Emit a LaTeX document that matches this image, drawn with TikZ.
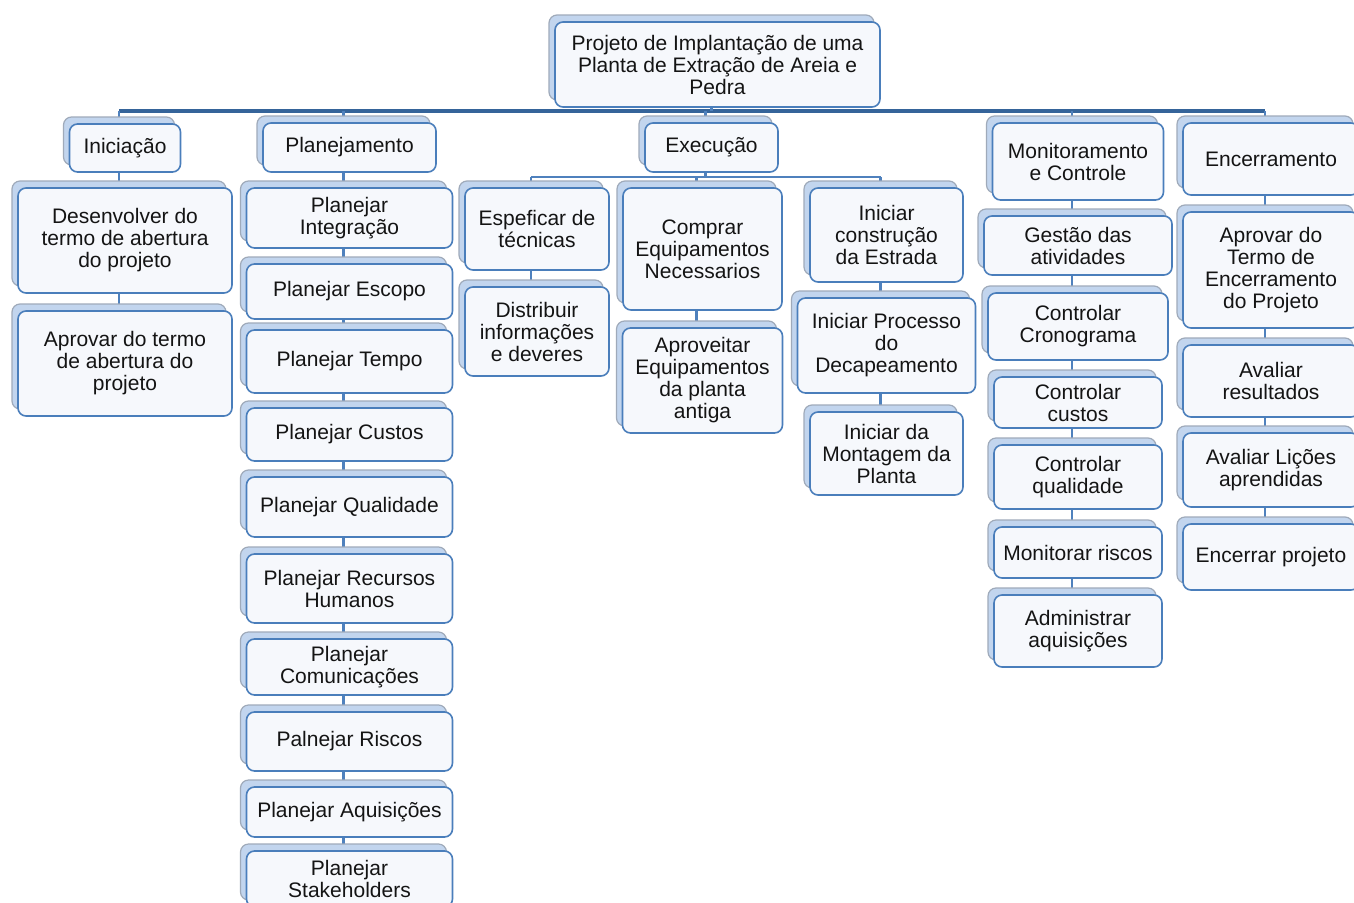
\documentclass[tikz,border=0pt]{standalone}
\usepackage{fontspec}
\setmainfont{Liberation Sans}
\usetikzlibrary{shadows,backgrounds}
\definecolor{boxblue}{HTML}{4A7EBB}
\definecolor{boxfill}{HTML}{F6F8FC}
\definecolor{backfill}{HTML}{C2D5EE}
\definecolor{backdraw}{HTML}{9FAABA}
\definecolor{connblue}{HTML}{4F81BD}
\definecolor{bardark}{HTML}{35649A}
\definecolor{txt}{HTML}{141414}
\tikzset{
  box/.style={draw=boxblue, line width=1.6pt, rounded corners=8pt, fill=boxfill,
    align=center, inner sep=0pt, text=txt, font=\fontsize{21}{22}\selectfont,
    copy shadow={shadow xshift=-6pt, shadow yshift=7pt, fill=backfill, draw=backdraw, line width=1.2pt, opacity=1}},
  conn/.style={draw=connblue, line width=2.8pt},
  mainbar/.style={draw=bardark, line width=3.6pt},
}
\begin{document}
\begin{tikzpicture}[x=1pt,y=-1pt]
\useasboundingbox (0,0) rectangle (1354,902);
% top
\node[box, minimum width=325pt, minimum height=85pt] (top) at (717.5,64.5) {Projeto de Implantação de uma\\Planta de Extração de Areia e\\Pedra};
% level 1
\node[box, minimum width=111pt, minimum height=48pt] (ini) at (125,148) {Iniciação};
\node[box, minimum width=173pt, minimum height=49pt] (pla) at (349.5,147.5) {Planejamento};
\node[box, minimum width=133pt, minimum height=49pt] (exe) at (711.5,147.5) {Execução};
\node[box, minimum width=171pt, minimum height=77pt] (mon) at (1078,161.5) {Monitoramento\\e Controle};
\node[box, minimum width=176pt, minimum height=72pt] (enc) at (1271,159) {Encerramento};
% Iniciação
\node[box, minimum width=214pt, minimum height=105pt] (ini1) at (125,240.5) {Desenvolver do\\termo de abertura\\do projeto};
\node[box, minimum width=214pt, minimum height=105pt] (ini2) at (125,363.5) {Aprovar do termo\\de abertura do\\projeto};
% Planejamento
\node[box, minimum width=206pt, minimum height=60pt] (p1) at (349.5,218) {Planejar\\Integração};
\node[box, minimum width=206pt, minimum height=55pt] (p2) at (349.5,291.5) {Planejar Escopo};
\node[box, minimum width=206pt, minimum height=63pt] (p3) at (349.5,361.5) {Planejar Tempo};
\node[box, minimum width=206pt, minimum height=53pt] (p4) at (349.5,434.5) {Planejar Custos};
\node[box, minimum width=206pt, minimum height=60pt] (p5) at (349.5,507) {Planejar Qualidade};
\node[box, minimum width=206pt, minimum height=69pt] (p6) at (349.5,588.5) {Planejar Recursos\\Humanos};
\node[box, minimum width=206pt, minimum height=56pt] (p7) at (349.5,667) {Planejar\\Comunicações};
\node[box, minimum width=206pt, minimum height=59pt] (p8) at (349.5,741.5) {Palnejar Riscos};
\node[box, minimum width=206pt, minimum height=50pt] (p9) at (349.5,812) {Planejar Aquisições};
\node[box, minimum width=206pt, minimum height=56pt] (p10) at (349.5,879) {Planejar\\Stakeholders};
% Execução
\node[box, minimum width=144pt, minimum height=82pt] (e1) at (537,229) {Espeficar de\\técnicas};
\node[box, minimum width=144pt, minimum height=89pt] (e2) at (537,331.5) {Distribuir\\informações\\e deveres};
\node[box, minimum width=159pt, minimum height=122pt] (e3) at (702.5,249) {Comprar\\Equipamentos\\Necessarios};
\node[box, minimum width=160pt, minimum height=105pt] (e4) at (702.5,380.5) {Aproveitar\\Equipamentos\\da planta\\antiga};
\node[box, minimum width=153pt, minimum height=94pt] (e5) at (886.5,235) {Iniciar\\construção\\da Estrada};
\node[box, minimum width=178pt, minimum height=95pt] (e6) at (886.5,345.5) {Iniciar Processo\\do\\Decapeamento};
\node[box, minimum width=153pt, minimum height=83pt] (e7) at (886.5,453.5) {Iniciar da\\Montagem da\\Planta};
% Monitoramento
\node[box, minimum width=188pt, minimum height=59pt] (m1) at (1078,245.5) {Gestão das\\atividades};
\node[box, minimum width=180pt, minimum height=67pt] (m2) at (1078,326.5) {Controlar\\Cronograma};
\node[box, minimum width=168pt, minimum height=51pt] (m3) at (1078,402.5) {Controlar\\custos};
\node[box, minimum width=168pt, minimum height=64pt] (m4) at (1078,477) {Controlar\\qualidade};
\node[box, minimum width=168pt, minimum height=51pt] (m5) at (1078,552.5) {Monitorar riscos};
\node[box, minimum width=168pt, minimum height=72pt] (m6) at (1078,631) {Administrar\\aquisições};
% Encerramento
\node[box, minimum width=176pt, minimum height=116pt] (n1) at (1271,270) {Aprovar do\\Termo de\\Encerramento\\do Projeto};
\node[box, minimum width=176pt, minimum height=72pt] (n2) at (1271,381) {Avaliar\\resultados};
\node[box, minimum width=176pt, minimum height=74pt] (n3) at (1271,470) {Avaliar Lições\\aprendidas};
\node[box, minimum width=176pt, minimum height=66pt] (n4) at (1271,557) {Encerrar projeto};
\coordinate (bar) at (0,111);
\coordinate (ebar) at (0,177);
\begin{scope}[on background layer]
\fill[white] (0,0) rectangle (1354,902);
\draw[mainbar] ([xshift=-6pt]ini.north |- bar) -- ([xshift=-6pt]enc.north |- bar);
\draw[conn] ([xshift=-6pt]top.south) -- ([xshift=-6pt]top.south |- bar);
\foreach \n in {ini,pla,exe,mon,enc}
  \draw[conn] ([xshift=-6pt]\n.north |- bar) -- ([xshift=-6pt]\n.north);
\draw[conn] ([xshift=-6pt]ini.south) -- ([xshift=-6pt]ini1.north);
\draw[conn] ([xshift=-6pt]ini1.south) -- ([xshift=-6pt]ini2.north);
\draw[conn] ([xshift=-6pt]pla.south) -- ([xshift=-6pt]p1.north);
\foreach \a/\b in {p1/p2,p2/p3,p3/p4,p4/p5,p5/p6,p6/p7,p7/p8,p8/p9,p9/p10}
  \draw[conn] ([xshift=-6pt]\a.south) -- ([xshift=-6pt]\b.north);
\draw[conn] ([xshift=-6pt]exe.south) -- ([xshift=-6pt]exe.south |- ebar);
\draw[conn] ([xshift=-6pt]e1.north |- ebar) -- ([xshift=-6pt]e5.north |- ebar);
\foreach \n in {e1,e3,e5}
  \draw[conn] ([xshift=-6pt]\n.north |- ebar) -- ([xshift=-6pt]\n.north);
\foreach \a/\b in {e1/e2,e3/e4,e5/e6,e6/e7}
  \draw[conn] ([xshift=-6pt]\a.south) -- ([xshift=-6pt]\b.north);
\draw[conn] ([xshift=-6pt]mon.south) -- ([xshift=-6pt]m1.north);
\foreach \a/\b in {m1/m2,m2/m3,m3/m4,m4/m5,m5/m6}
  \draw[conn] ([xshift=-6pt]\a.south) -- ([xshift=-6pt]\b.north);
\draw[conn] ([xshift=-6pt]enc.south) -- ([xshift=-6pt]n1.north);
\foreach \a/\b in {n1/n2,n2/n3,n3/n4}
  \draw[conn] ([xshift=-6pt]\a.south) -- ([xshift=-6pt]\b.north);
\end{scope}
\end{tikzpicture}
\end{document}
